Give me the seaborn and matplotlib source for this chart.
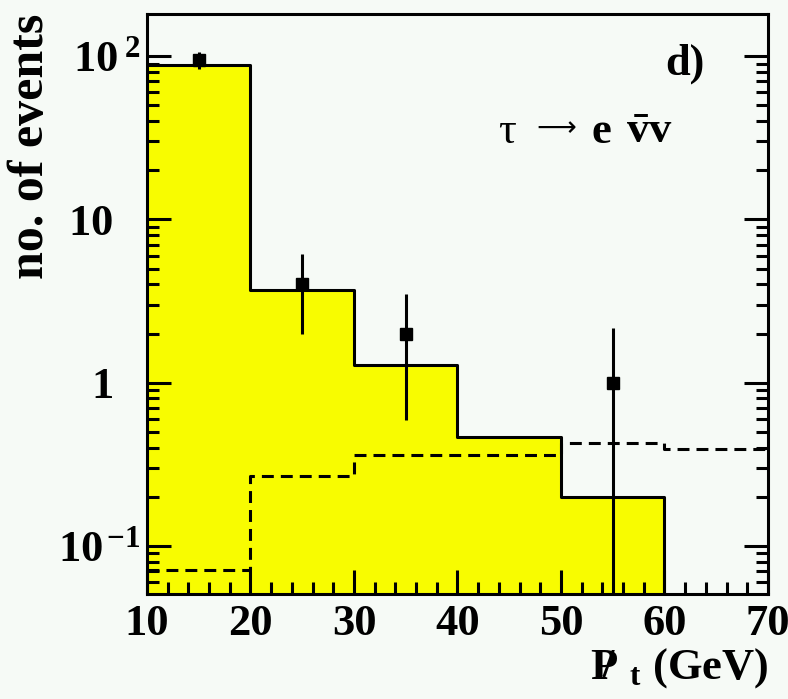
import numpy as np
import pandas as pd
import matplotlib
matplotlib.use("Agg")
import matplotlib.pyplot as plt
import matplotlib.transforms as mtransforms
import seaborn as sns

# ---- data ----
bin_edges = [10, 20, 30, 40, 50, 60, 70]
bin_centers = [15, 25, 35, 45, 55, 65]
signal_mc = [88.0, 3.72, 1.29, 0.467, 0.20, 0.0]
background_mc = [0.0712, 0.269, 0.362, 0.362, 0.429, 0.393]
data_x = [15, 25, 35, 55]
data_y = [94.0, 4.0, 2.0, 1.0]
data_err_lo = [11.0, 2.0, 1.41, 1.0]
data_err_hi = [11.5, 2.1, 1.5, 1.15]
x_ticks = [10, 20, 30, 40, 50, 60, 70]
y_ticks = [0.1, 1, 10, 100]
y_tick_labels = [r'$\mathbf{10}^{\,\mathbf{-1}}$', r'$\mathbf{1}$',
                 r'$\mathbf{10}$', r'$\mathbf{10}^{\;\mathbf{2}}$']

sns.set_theme(style="ticks")
plt.rcParams['font.family'] = ['Liberation Serif', 'DejaVu Serif']
plt.rcParams['font.weight'] = 'bold'
plt.rcParams['mathtext.fontset'] = 'custom'
plt.rcParams['mathtext.rm'] = 'Liberation Serif:bold'
plt.rcParams['mathtext.bf'] = 'Liberation Serif:bold'
plt.rcParams['mathtext.it'] = 'Liberation Serif:italic:bold'
plt.rcParams['mathtext.sf'] = 'Liberation Serif:bold'
for k in ['text.color', 'axes.labelcolor', 'xtick.color', 'ytick.color', 'axes.edgecolor']:
    plt.rcParams[k] = 'black'

bg = '#F6FAF6'
yellow = '#F8FC00'

fig = plt.figure(figsize=(7.88, 6.99), dpi=100, facecolor=bg)
ax = fig.add_axes([147/788, 1-594/699, (768-147)/788, (594-14)/699])
ax.set_facecolor(bg)
ax.set_axisbelow(False)

df_sig = pd.DataFrame({'x': bin_centers, 'w': signal_mc})
df_bg = pd.DataFrame({'x': bin_centers, 'w': background_mc})

sns.histplot(data=df_sig, x='x', weights='w', bins=bin_edges, element='step',
             fill=True, color=yellow, alpha=1, linewidth=0, ax=ax)
sns.histplot(data=df_sig, x='x', weights='w', bins=bin_edges, element='step',
             fill=False, color='black', linewidth=2.2, ax=ax)
sns.histplot(data=df_bg, x='x', weights='w', bins=bin_edges, element='step',
             fill=False, color='black', linewidth=2.2, linestyle=(0, (3.9, 2.3)), ax=ax)

ax.errorbar(data_x, data_y, yerr=[data_err_lo, data_err_hi], fmt='s', color='black',
            ms=8.5, elinewidth=2.2, capsize=0, zorder=5)

ax.set_yscale('log')
ax.set_xlim(10, 70)
ax.set_ylim(0.0508, 181)

ax.set_xticks(x_ticks)
ax.set_xticklabels([str(t) for t in x_ticks])
ax.xaxis.set_minor_locator(matplotlib.ticker.MultipleLocator(2))
ax.set_yticks(y_ticks)
ax.set_yticklabels(y_tick_labels)
ax.yaxis.set_minor_locator(matplotlib.ticker.LogLocator(base=10, subs=np.arange(2, 10)))
ax.yaxis.set_minor_formatter(matplotlib.ticker.NullFormatter())

ax.tick_params(axis='both', which='major', direction='in', length=17, width=2.2,
               labelsize=32, pad=7, colors='black')
ax.tick_params(axis='both', which='minor', direction='in', length=8.6, width=2.2)
ax.tick_params(axis='y', which='both', right=True, left=True)
ax.tick_params(axis='y', which='major', pad=4.5)
ax.tick_params(axis='x', which='both', top=False)
for s in ax.spines.values():
    s.set_linewidth(2.2)
    s.set_color('black')
    s.set_visible(True)
    s.set_zorder(6)

# plain (non-superscript) y labels sit further from the axis, as in the reference
for i, tick in enumerate(ax.yaxis.get_major_ticks()):
    if i in (1, 2):
        tick.label1.set_transform(tick.label1.get_transform() +
                                  mtransforms.ScaledTranslation(-0.28, 0, fig.dpi_scale_trans))

ax.set_ylabel('no. of events', fontsize=36, fontweight='bold', loc='top')
ax.yaxis.set_label_coords(-0.15, 1.0)
ax.set_xlabel(r'$\mathbf{P}\!\!\!\!\:\mathbf{/}\;\,{}_{\mathbf{t}}$ (GeV)', fontsize=32,
              fontweight='bold', loc='right')
ax.xaxis.set_label_coords(1.0, -0.09)

ax.text(0.898, 0.895, 'd)', transform=ax.transAxes, ha='right', va='baseline',
        fontsize=32, fontweight='bold')
# τ → e ν̄ν annotation
ax.text(0.566, 0.778, 'τ', transform=ax.transAxes, ha='left', va='baseline',
        fontsize=32, fontweight='normal')
ax.text(0.627, 0.803, '⟶', transform=ax.transAxes, ha='left', va='center',
        fontsize=20, fontweight='normal', family=['DejaVu Sans'])
ax.text(0.716, 0.778, 'e', transform=ax.transAxes, ha='left', va='baseline',
        fontsize=32, fontweight='bold')
ax.text(0.772, 0.778, r'$\bar{\mathbf{v}}\mathbf{v}$', transform=ax.transAxes,
        ha='left', va='baseline', fontsize=32)

fig.savefig('out.png', dpi=100, facecolor=bg)
